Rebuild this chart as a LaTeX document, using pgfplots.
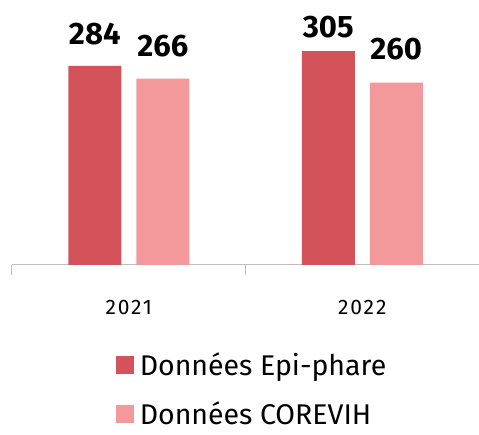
\documentclass[border=0pt]{standalone}
\usepackage{pgfplots}
\pgfplotsset{compat=1.18}
\usepackage{pgfplotstable}
\usepackage{fontspec}
\setmainfont{Fira Sans}
\newfontfamily\labfont{Fira Sans}
\definecolor{epi}{HTML}{D4525A}
\definecolor{cor}{HTML}{F4999B}
\definecolor{axgray}{HTML}{BFBFBF}
\pgfplotstableread{
x y s
0 284 21
1 305 14
}\epidata
\pgfplotstableread{
x y s
0 266 22
1 260 23
}\cordata
\begin{document}
\begin{tikzpicture}
\path[use as bounding box] (0,0) rectangle (479pt,435pt);
\begin{axis}[
  at={(12pt,170pt)}, anchor=south west,
  scale only axis, width=467pt, height=265pt,
  ymin=0, ymax=378, xmin=-0.5, xmax=1.5,
  clip=false,
  /pgf/number format/assume math mode=true,
  axis x line*=bottom, axis y line=none,
  axis line style={axgray, line width=1pt, -},
  xtick={0,1}, xticklabels={2021,2022},
  major tick length=0pt,
  minor xtick={-0.5,0.5,1.5}, minor tick length=10pt, tick align=outside,
  minor tick style={axgray, line width=1pt},
  xticklabel style={font=\fontsize{21}{21}\selectfont\addfontfeatures{LetterSpace=9}, anchor=base, yshift=-50pt},
  ybar=15pt, bar width=53pt,
  nodes near coords={\labfont\bfseries\pgfmathprintnumber{\pgfplotspointmeta}},
  visualization depends on={\thisrow{s}\as\sh},
  every node near coord/.append style={anchor=base, yshift=\sh pt, font=\fontsize{31}{31}\selectfont\labfont\bfseries, text=black},
  legend style={at={(0.514,-0.47)}, anchor=center, draw=none, fill=none,
    font=\fontsize{28.5}{28.5}\selectfont, row sep=21pt, column sep=4pt, cells={anchor=west}},
  legend cell align=left,
]
\addplot[fill=epi, draw=none, legend image code/.code={\fill[epi] (0pt,-9pt) rectangle (18pt,9pt);}] table[x=x,y=y] {\epidata};
\addlegendentry{Données Epi-phare}
\addplot[fill=cor, draw=none, legend image code/.code={\fill[cor] (0pt,-9pt) rectangle (18pt,9pt);}] table[x=x,y=y] {\cordata};
\addlegendentry{Données COREVIH}
\end{axis}
\end{tikzpicture}
\end{document}
